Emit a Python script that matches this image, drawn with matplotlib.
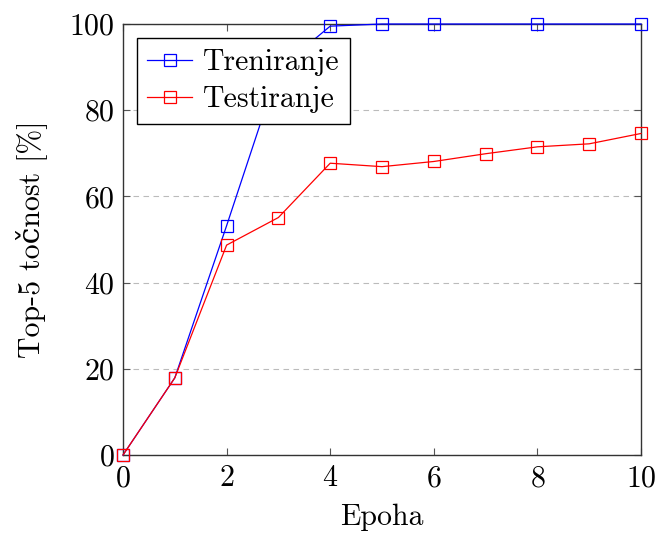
import matplotlib
matplotlib.use("Agg")
import matplotlib.pyplot as plt

# podaci
epohe_test = [0, 1, 2, 3, 4, 5, 6, 7, 8, 9, 10]
testiranje = [0, 17.9, 48.7, 55.1, 67.7, 66.9, 68.1, 69.9, 71.5, 72.2, 74.6]

epohe_train = [0, 1, 2, 3, 4, 5, 6, 8, 10]
treniranje = [0, 17.9, 53.2, 89.5, 99.5, 100, 100, 100, 100]

x_ticks = [0, 2, 4, 6, 8, 10]
y_ticks = [0, 20, 40, 60, 80, 100]

plt.rcParams["font.family"] = ["cmr10", "DejaVu Serif"]
plt.rcParams["mathtext.fontset"] = "cm"
plt.rcParams["axes.formatter.use_mathtext"] = True

FS = 21.5

fig = plt.figure(figsize=(6.59, 5.33), dpi=100)
ax = fig.add_axes([123 / 659, 1 - 455 / 533, (641 - 123) / 659, (455 - 24) / 533])

ax.plot(epohe_train, treniranje, color="blue", lw=0.9, marker="s", ms=8.5,
        mfc="none", mec="blue", mew=0.9, label="Treniranje", clip_on=False, zorder=3)
ax.plot(epohe_test, testiranje, color="red", lw=0.9, marker="s", ms=8.5,
        mfc="none", mec="red", mew=0.9, label="Testiranje", clip_on=False, zorder=3)

ax.set_xlim(0, 10)
ax.set_ylim(0, 100)
ax.set_xticks(x_ticks)
ax.set_yticks(y_ticks)
ax.tick_params(direction="in", length=5, width=0.8, color="#555555",
               top=True, right=True, labelsize=FS)
ax.tick_params(axis="x", pad=7)
ax.tick_params(axis="y", pad=6)
for s in ax.spines.values():
    s.set_linewidth(1.0)
    s.set_color("#333333")

ax.yaxis.grid(True, linestyle=(0, (5, 4)), color="#bbbbbb", lw=0.8)
ax.set_axisbelow(True)

ax.set_xlabel("Epoha", fontsize=FS, labelpad=8)
ax.set_ylabel("Top-5 točnost [%]", fontsize=FS, labelpad=16)

leg = ax.legend(loc="upper left", bbox_to_anchor=(0.027, 0.967), fancybox=False,
                framealpha=1, edgecolor="black", fontsize=FS, handlelength=1.5,
                handletextpad=0.35, borderpad=0.35, labelspacing=0.32, borderaxespad=0)
leg.get_frame().set_linewidth(1.0)

fig.savefig("out.png", dpi=100)
